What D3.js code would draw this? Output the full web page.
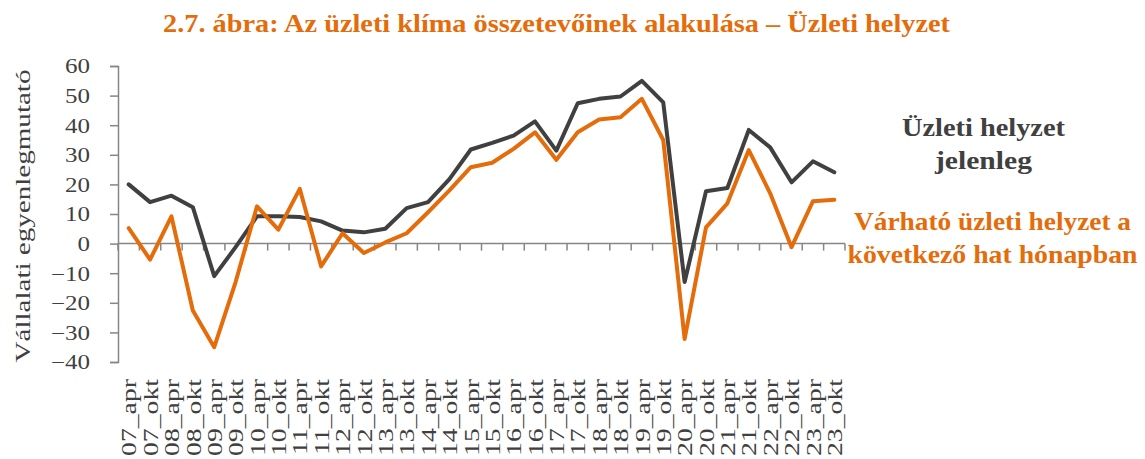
<!DOCTYPE html>
<html><head><meta charset="utf-8">
<script src="https://cdn.jsdelivr.net/npm/d3@7"></script>
<style>body{margin:0;background:#fff}svg{display:block}</style>
</head><body>
<svg id="c" width="1145" height="459"></svg>
<script>
const years = ["07","08","09","10","11","12","13","14","15","16","17","18","19","20","21","22","23"];
const categories = years.flatMap(y => [y + "_apr", y + "_okt"]);
const current = [20,14,16.2,12.3,-11,-1.2,9.2,9.2,9,7.5,4.4,3.8,5,12,14,21.8,31.8,34,36.5,41.3,31.4,47.4,48.9,49.7,55,47.7,-13,17.7,18.8,38.4,32.5,20.7,27.8,24.1];
const expected = [5.2,-5.4,9.2,-22.6,-35,-13,12.6,4.7,18.5,-7.7,3.5,-3.2,0.4,3.5,10.6,18,25.8,27.3,32,37.6,28.3,37.6,41.9,42.7,48.9,35,-32.2,5.5,13.6,31.6,17,-1.2,14.3,14.8];
const yTicks = [-40,-30,-20,-10,0,10,20,30,40,50,60];
const title = "2.7. ábra: Az üzleti klíma összetevőinek alakulása – Üzleti helyzet";
const yTitle = "Vállalati egyenlegmutató";
const legend1 = ["Üzleti helyzet", "jelenleg"];
const legend2 = ["Várható üzleti helyzet a", "következő hat hónapban"];

const DARK = "#404040", ORANGE = "#E46C0A", AXIS = "#868686";
const svg = d3.select("#c");
const serif = "'Liberation Serif','Times New Roman',serif";

const xBand = d3.scaleBand().domain(categories).range([118, 845]);
const x = c => xBand(c) + xBand.bandwidth() / 2;
const y = d3.scaleLinear().domain([-40, 60]).range([362, 66]);

function stretch(sel, factor) {
  sel.each(function() {
    const w = this.getComputedTextLength();
    this.setAttribute("textLength", w * factor);
    this.setAttribute("lengthAdjust", "spacingAndGlyphs");
  });
}
function fit(sel, widths) {
  sel.each(function(d, i) {
    this.setAttribute("textLength", widths[i]);
    this.setAttribute("lengthAdjust", "spacingAndGlyphs");
  });
}

// title
const t = svg.append("text").attr("x", 556.5).attr("y", 32).attr("text-anchor", "middle")
  .attr("font-family", serif).attr("font-weight", "bold").attr("font-size", 26)
  .attr("fill", ORANGE).text(title);
t.attr("textLength", 787).attr("lengthAdjust", "spacingAndGlyphs");

// y axis
const yAxis = svg.append("g").attr("transform", "translate(118,0)")
  .call(d3.axisLeft(y).tickValues(yTicks).tickSize(8).tickPadding(20).tickFormat(d3.format("d")));
yAxis.select(".domain").attr("stroke", AXIS).attr("stroke-width", 1.5);
yAxis.selectAll(".tick line").attr("stroke", AXIS).attr("stroke-width", 1.5);
yAxis.selectAll(".tick text").attr("font-family", serif).attr("font-size", 20).attr("fill", "#404040")
  .attr("dy", "0.34em");
stretch(yAxis.selectAll(".tick text"), 1.25);

// y title
const yt = svg.append("text").attr("transform", "translate(30,216) rotate(-90)")
  .attr("text-anchor", "middle").attr("font-family", serif).attr("font-size", 22)
  .attr("fill", "#404040").text(yTitle);
yt.attr("textLength", 293).attr("lengthAdjust", "spacingAndGlyphs");

// x axis line at zero with ticks between categories
const xg = svg.append("g");
xg.append("line").attr("x1", 118).attr("x2", 845).attr("y1", y(0)).attr("y2", y(0))
  .attr("stroke", AXIS).attr("stroke-width", 1.5);
const bounds = categories.map(c => xBand(c)).concat([xBand.range()[1]]);
xg.selectAll("line.tk").data(bounds).join("line").attr("class", "tk")
  .attr("x1", d => d).attr("x2", d => d).attr("y1", y(0)).attr("y2", y(0) + 7)
  .attr("stroke", AXIS).attr("stroke-width", 1.5);

// x labels
const xl = svg.append("g").selectAll("text").data(categories).join("text")
  .attr("transform", d => `translate(${x(d)},379) rotate(-90)`)
  .attr("text-anchor", "end").attr("dy", "0.35em")
  .attr("font-family", serif).attr("font-size", 22).attr("fill", "#404040").text(d => d);
stretch(xl, 1.26);

// lines
const line = vals => d3.line().x((d, i) => x(categories[i])).y(d => y(d))(vals);
svg.append("path").attr("d", line(current)).attr("fill", "none").attr("stroke", DARK)
  .attr("stroke-width", 4).attr("stroke-linejoin", "round").attr("stroke-linecap", "round");
svg.append("path").attr("d", line(expected)).attr("fill", "none").attr("stroke", ORANGE)
  .attr("stroke-width", 4).attr("stroke-linejoin", "round").attr("stroke-linecap", "round");

// legend
const l1 = svg.append("g").selectAll("text").data(legend1).join("text")
  .attr("x", 983.5).attr("y", (d, i) => 136 + i * 33).attr("text-anchor", "middle")
  .attr("font-family", serif).attr("font-weight", "bold").attr("font-size", 25)
  .attr("fill", DARK).text(d => d);
fit(l1, [163, 97]);
const l2 = svg.append("g").selectAll("text").data(legend2).join("text")
  .attr("x", 992.5).attr("y", (d, i) => 230 + i * 33).attr("text-anchor", "middle")
  .attr("font-family", serif).attr("font-weight", "bold").attr("font-size", 25)
  .attr("fill", ORANGE).text(d => d);
fit(l2, [277, 290]);
</script>
</body></html>
